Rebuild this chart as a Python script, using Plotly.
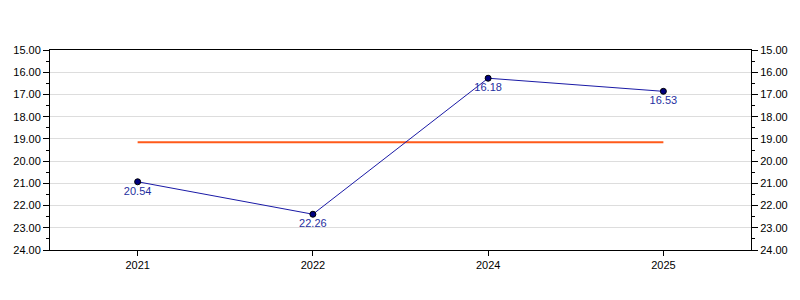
import plotly.graph_objects as go

years = ["2021", "2022", "2024", "2025"]
values = [20.93, 22.39, 16.27, 16.86]
labels = ["20.54", "22.26", "16.18", "16.53"]
avg_value = 19.15
y_ticks = [15, 16, 17, 18, 19, 20, 21, 22, 23, 24]

font = "Liberation Sans, Arial, sans-serif"

fig = go.Figure()
fig.add_trace(go.Scatter(
    x=years, y=[avg_value] * len(years), mode="lines",
    line=dict(color="#FF5a1a", width=2), hoverinfo="skip", showlegend=False))
fig.add_trace(go.Scatter(
    x=years, y=values, mode="lines+markers+text",
    text=labels, textposition="bottom center",
    textfont=dict(family=font, size=11, color="#1f2fa0"),
    line=dict(color="#1a1aa6", width=1),
    marker=dict(size=6, color="#000080", line=dict(color="#000000", width=1)),
    showlegend=False))
fig.add_trace(go.Scatter(x=years, y=values, yaxis="y2", mode="none",
                         hoverinfo="skip", showlegend=False))

yax = dict(range=[24, 15], tickvals=y_ticks, tickformat=".2f",
           ticks="outside", ticklen=6, tickcolor="black",
           minor=dict(ticks="outside", dtick=0.5, ticklen=3, tickcolor="black", showgrid=False),
           showline=True, linecolor="black", linewidth=1,
           tickfont=dict(family=font, size=11, color="black"), zeroline=False)

fig.update_layout(
    width=800, height=300,
    margin=dict(l=50, r=47, t=50, b=50),
    plot_bgcolor="white", paper_bgcolor="white",
    xaxis=dict(type="category", range=[-0.5, 3.5], ticks="outside", ticklen=5,
               tickcolor="black", showline=True, linecolor="black", linewidth=1,
               mirror=True, showgrid=False,
               tickfont=dict(family=font, size=11, color="black")),
    yaxis=dict(**yax, showgrid=True, gridcolor="#dddddd", gridwidth=1, mirror=True),
    yaxis2=dict(**yax, overlaying="y", side="right", showgrid=False),
)

fig.write_html("out.html")
